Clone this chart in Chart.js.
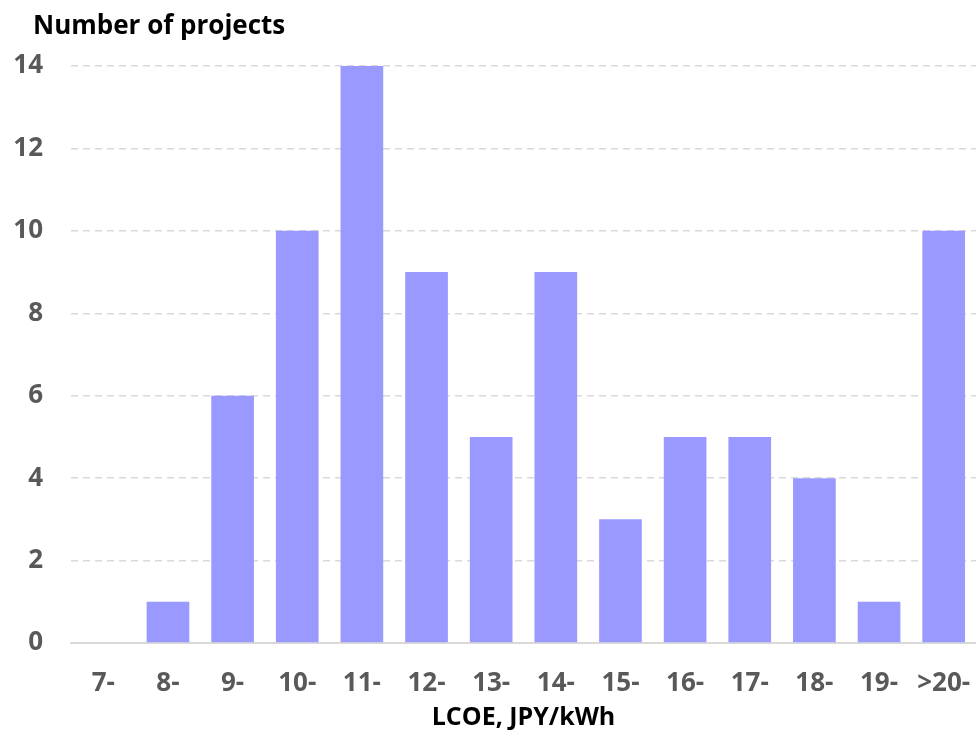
<!DOCTYPE html>
<html>
<head>
<meta charset="utf-8">
<script src="https://cdn.jsdelivr.net/npm/chart.js@4"></script>
<style>
    html, body { margin: 0; padding: 0; background: #fff; }
    #wrap { width: 976px; height: 730px; }
</style>
</head>
<body>
<div id="wrap"><canvas id="lcoeChart" width="976" height="730"></canvas></div>
<script>
// -------- DATA --------
const categories = ['7-', '8-', '9-', '10-', '11-', '12-', '13-', '14-', '15-', '16-', '17-', '18-', '19-', '>20-'];
const projectCounts = [0, 1, 6, 10, 14, 9, 5, 9, 3, 5, 5, 4, 1, 10];
const yTicks = [0, 2, 4, 6, 8, 10, 12, 14];
const yTitle = 'Number of projects';
const xTitle = 'LCOE, JPY/kWh';
// -------- END DATA --------

const FONT = '"Open Sans", "Noto Sans", sans-serif';

// y-axis caption sits above the plot, left aligned
const topCaption = {
    id: 'topCaption',
    afterDraw(chart) {
        const ctx = chart.ctx;
        ctx.save();
        ctx.font = 'bold 26px ' + FONT;
        ctx.fillStyle = '#000';
        ctx.textBaseline = 'middle';
        ctx.textAlign = 'left';
        ctx.fillText(yTitle, 33, 27);
        ctx.restore();
    }
};

new Chart(document.getElementById('lcoeChart').getContext('2d'), {
    type: 'bar',
    data: {
        labels: categories,
        datasets: [{
            data: projectCounts,
            backgroundColor: '#9999ff',
            barPercentage: 0.66,
            categoryPercentage: 1
        }]
    },
    options: {
        responsive: false,
        animation: false,
        layout: { padding: { top: 66, right: 0, left: 0, bottom: 0 } },
        plugins: {
            legend: { display: false },
            tooltip: { enabled: false }
        },
        scales: {
            x: {
                grid: { display: false },
                border: { display: true, color: '#d9d9d9', width: 2 },
                ticks: {
                    color: '#595959',
                    font: { family: FONT, size: 26, weight: 'bold' },
                    padding: 17,
                    maxRotation: 0
                },
                title: {
                    display: true,
                    text: xTitle,
                    color: '#000',
                    font: { family: FONT, size: 25, weight: 'bold' },
                    padding: { top: 0, bottom: -3 }
                },
                afterFit: scale => {
                    // keep the plot running to the right edge
                    scale.height = 87;
                    scale.paddingLeft = 0;
                    scale.paddingRight = 0;
                }
            },
            y: {
                min: 0,
                max: 14,
                afterBuildTicks: scale => { scale.ticks = yTicks.map(v => ({ value: v })); },
                grid: { color: '#d9d9d9', lineWidth: 1.5, drawTicks: false },
                border: { display: false, dash: [7, 5] },
                ticks: {
                    color: '#595959',
                    font: { family: FONT, size: 26, weight: 'bold' },
                    padding: 28
                },
                afterFit: scale => { scale.width = 71; }
            }
        }
    },
    plugins: [topCaption]
});
</script>
</body>
</html>
